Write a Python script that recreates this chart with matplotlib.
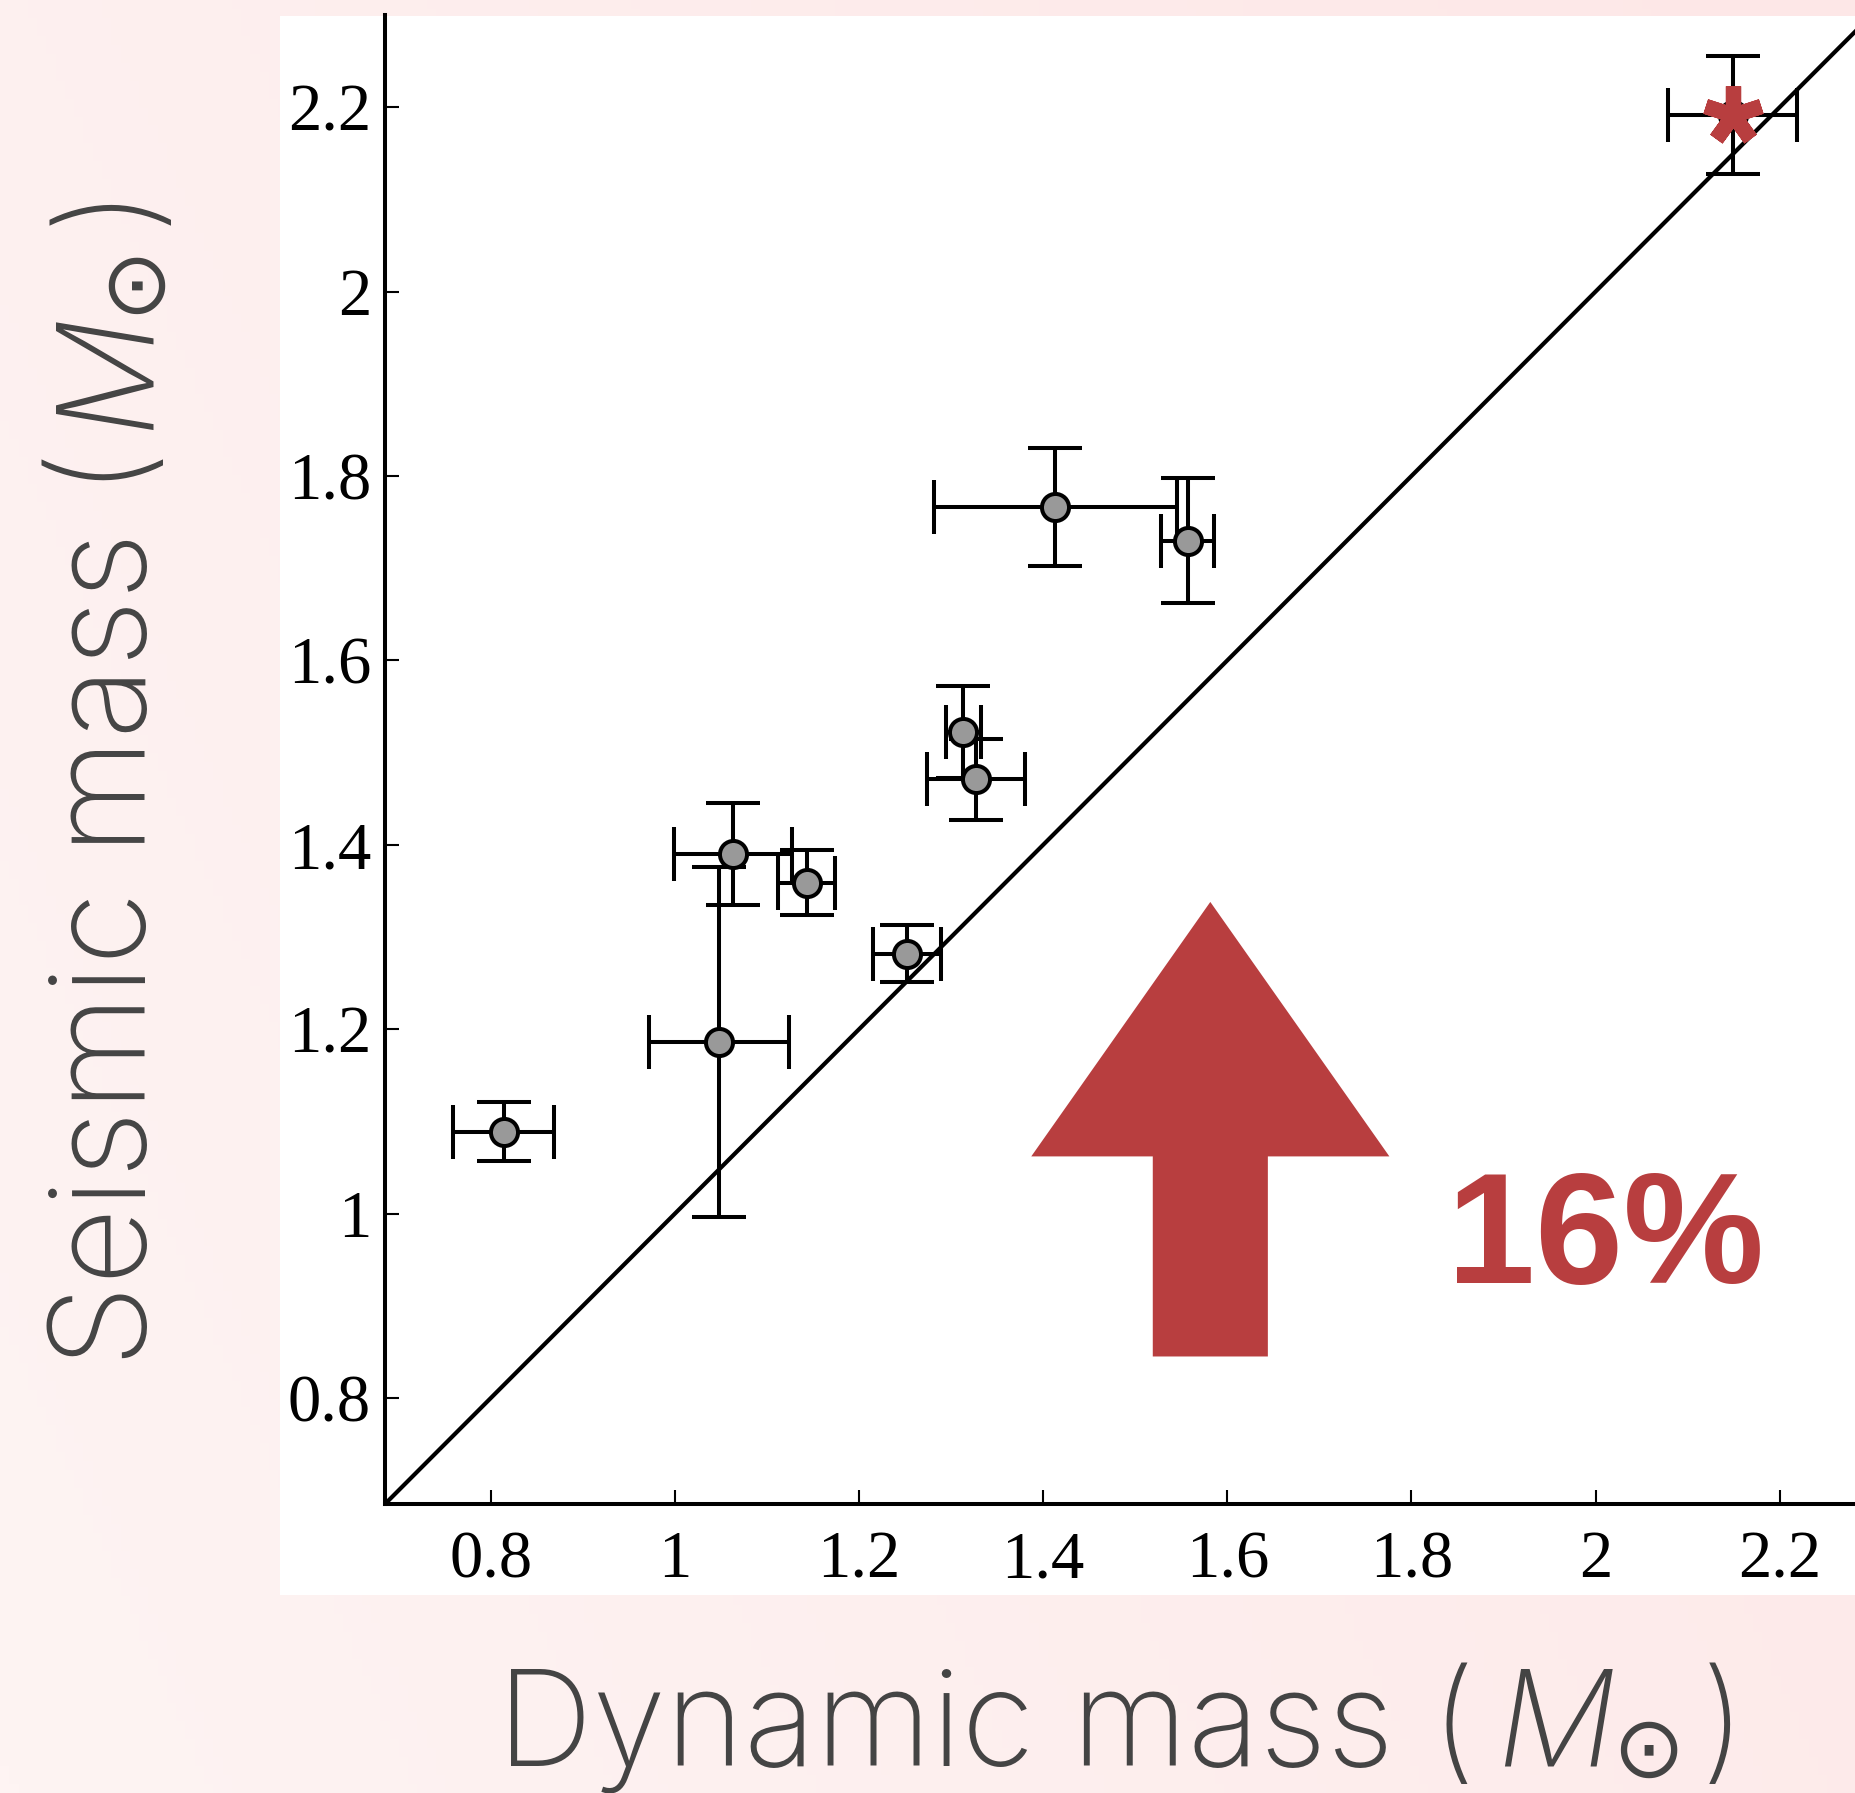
import matplotlib
matplotlib.use('Agg')
import matplotlib.pyplot as plt
import numpy as np
from matplotlib.patches import FancyArrow, Rectangle
from matplotlib.colors import LinearSegmentedColormap

# dynamic vs seismic masses (solar masses)
dyn_mass = [0.814, 1.048, 1.063, 1.143, 1.252, 1.313, 1.327, 1.413, 1.557]
dyn_err = [0.055, 0.076, 0.064, 0.031, 0.037, 0.019, 0.053, 0.132, 0.029]
seis_mass = [1.089, 1.186, 1.390, 1.359, 1.282, 1.522, 1.471, 1.766, 1.730]
seis_err = [0.032, 0.190, 0.055, 0.035, 0.031, 0.050, 0.044, 0.064, 0.068]

# highlighted star
star_dyn = [2.149]
star_dyn_err = [0.070]
star_seis = [2.192]
star_seis_err = [0.064]

xticks = [0.8, 1.0, 1.2, 1.4, 1.6, 1.8, 2.0, 2.2]
xticklabels = ['0.8', '1', '1.2', '1.4', '1.6', '1.8', '2', '2.2']
yticks = [0.8, 1.0, 1.2, 1.4, 1.6, 1.8, 2.0, 2.2]
yticklabels = ['0.8', '1', '1.2', '1.4', '1.6', '1.8', '2', '2.2']

RED = '#b83e3f'
GREY_TEXT = '#444444'

W, H = 1855, 1793
fig = plt.figure(figsize=(W / 100, H / 100), dpi=100)

# pink gradient background
bg = fig.add_axes([0, 0, 1, 1], zorder=-10)
gx, gy = np.meshgrid(np.linspace(0, 1, 200), np.linspace(0, 1, 200))
grad = 0.7 * gx + 0.3 * (1 - gy)
cmap = LinearSegmentedColormap.from_list('bg', ['#fef4f3', '#fde7e7'])
bg.imshow(grad, cmap=cmap, aspect='auto', extent=[0, 1, 0, 1], origin='upper')
bg.set_axis_off()

# white panel behind the plot
fig.patches.append(Rectangle((280 / W, 1 - 1595 / H), 1 - 280 / W, (1595 - 16) / H,
                             transform=fig.transFigure, facecolor='white',
                             edgecolor='none', zorder=-5))

lo, hi = 0.685, 2.30
ax_left = 385 / W
ax_bottom = 1 - 1504 / H
ax_w = (hi - lo) * 920.6 / W
ax_h = (hi - lo) * 922.0 / H
ax = fig.add_axes([ax_left, ax_bottom, ax_w, ax_h])
ax.patch.set_alpha(0)
ax.set_xlim(lo, hi)
ax.set_ylim(lo, hi)

ax.axline((1, 1), slope=1, color='black', lw=3, zorder=2)

for x, xe, y, ye in zip(dyn_mass, dyn_err, seis_mass, seis_err):
    ax.errorbar(x, y, xerr=xe, yerr=ye, fmt='o', color='black', ecolor='black',
                elinewidth=2.9, capsize=19.5, capthick=2.9, markersize=19.5,
                markerfacecolor='#999999', markeredgecolor='black',
                markeredgewidth=2.9, zorder=3)

ax.errorbar(star_dyn, star_seis, xerr=star_dyn_err, yerr=star_seis_err, fmt='o',
            color='black', ecolor='black', elinewidth=2.9, capsize=19.5,
            capthick=2.9, markersize=19.5, markerfacecolor='#999999',
            markeredgecolor='black', markeredgewidth=2.9, zorder=3)
ax.plot(star_dyn, star_seis, linestyle='none', marker=(5, 2, 0), markersize=42,
        markeredgewidth=11, color=RED, zorder=4)

# big arrow + percentage
ax.add_patch(FancyArrow(1.5815, 0.845, 0, 0.493, width=0.125, head_width=0.389,
                        head_length=0.276, length_includes_head=True,
                        facecolor=RED, edgecolor='none', zorder=1))
ax.text(1.839, 0.9245, '16%', color=RED, fontsize=114, fontweight='bold',
        family='Liberation Sans', ha='left', va='baseline')

ax.spines['top'].set_visible(False)
ax.spines['right'].set_visible(False)
ax.spines['left'].set_linewidth(2.9)
ax.spines['bottom'].set_linewidth(2.9)

ax.set_xticks(xticks)
ax.set_xticklabels(xticklabels)
ax.set_yticks(yticks)
ax.set_yticklabels(yticklabels)
ax.tick_params(direction='in', length=10, width=1.5, labelsize=48,
               top=False, right=False)
ax.tick_params(axis='x', pad=19)
ax.tick_params(axis='y', pad=10)
for lab in ax.get_xticklabels() + ax.get_yticklabels():
    lab.set_family('Liberation Serif')

# axis labels, built piece by piece so the sun symbol can be small
label_kw = dict(family='Inter', fontweight='light', color=GREY_TEXT, fontsize=96)
sun_kw = dict(family=['DejaVu Sans'], fontweight='normal', color=GREY_TEXT, fontsize=62)


def label_pieces(word):
    # (text, style, gap before in px, raise above baseline in px)
    return [(word + ' (', label_kw, 0, 0),
            ('M', dict(label_kw, style='italic'), 20, 0),
            ('\u2299', sun_kw, -3, -11),
            (')', label_kw, 16, 0)]


renderer = fig.canvas.get_renderer()


def advances(pieces):
    out = []
    for s, kw, gap, rise in pieces:
        t = fig.text(0, 0, s, **kw)
        out.append(t.get_window_extent(renderer).width)
        t.remove()
    return out


def draw_label(pieces, start, base, vertical=False):
    pos = start
    for (s, kw, gap, rise), adv in zip(pieces, advances(pieces)):
        pos += gap
        if vertical:
            fig.text((base - rise) / W, pos / H, s, rotation=90,
                     rotation_mode='anchor', ha='left', va='baseline', **kw)
        else:
            fig.text(pos / W, (base + rise) / H, s, ha='left', va='baseline', **kw)
        pos += adv


# x label: baseline 1766 px from the top
draw_label(label_pieces('Dynamic mass'), 497, H - 1766)
# y label: baseline at px 147, runs upwards from near the bottom
draw_label(label_pieces('Seismic mass'), H - 1367, 146, vertical=True)

fig.savefig('out.png', dpi=100)
